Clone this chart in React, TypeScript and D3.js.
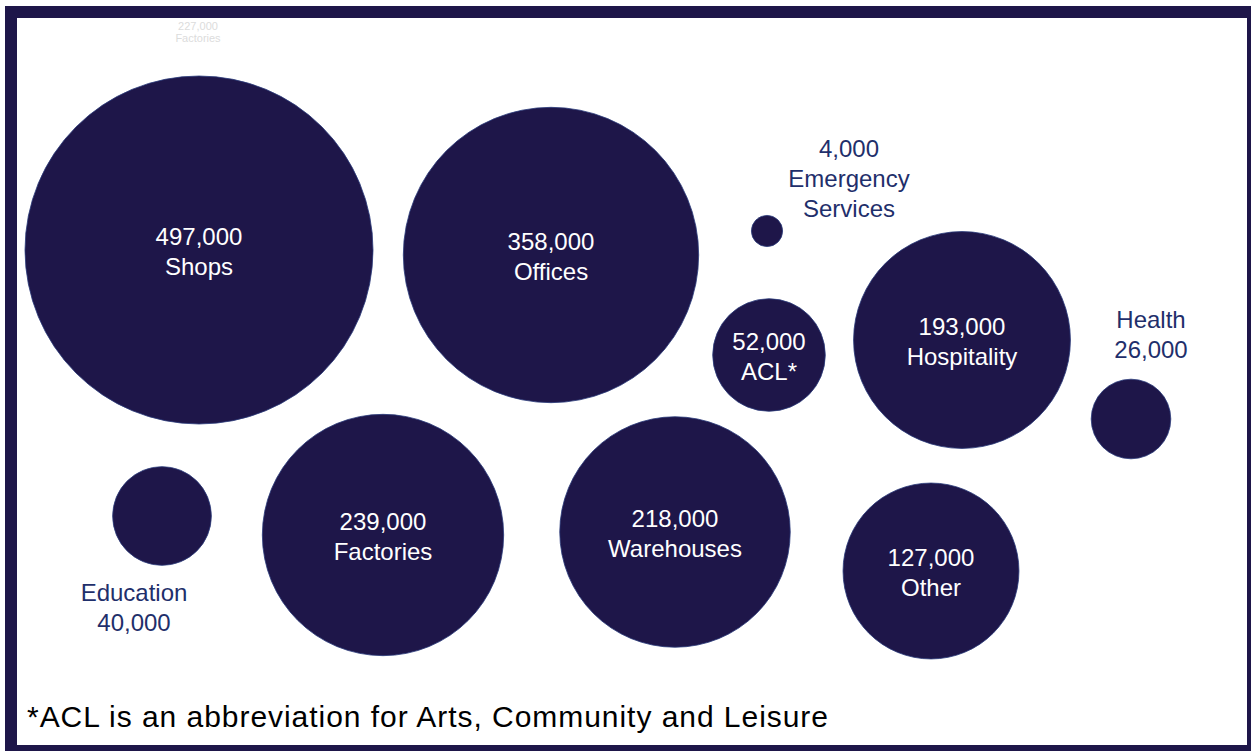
import React from "react";
import * as d3 from "d3";

// ---- data ----
const categories = [
  "Shops",
  "Offices",
  "Emergency Services",
  "ACL*",
  "Hospitality",
  "Health",
  "Education",
  "Factories",
  "Warehouses",
  "Other",
];
const values = [497000, 358000, 4000, 52000, 193000, 26000, 40000, 239000, 218000, 127000];
const footnote = "*ACL is an abbreviation for Arts, Community and Leisure";

// ---- layout (positions of bubble centres, label style) ----
const centerX = [199, 551, 767, 769, 962, 1131, 162, 383, 675, 931];
const centerY = [250, 255, 231, 355, 340, 419, 516, 535, 532, 571];
const labelMode = ["in", "in", "above", "in", "in", "above", "below", "in", "in", "in"];

const W = 1251;
const H = 751;
const NAVY = "#1e1649";
const LABEL_BLUE = "#1f2f6b";
const FONT = "'Liberation Sans', Arial, Helvetica, sans-serif";

export default function App() {
  const fmt = d3.format(",");
  const r = d3.scaleSqrt().domain([0, d3.max(values) as number]).range([0, 174]);

  const nodes = categories.map((c, i) => ({
    name: c,
    value: values[i],
    x: centerX[i],
    y: centerY[i],
    mode: labelMode[i],
  }));

  return (
    <svg
      width={W}
      height={H}
      style={{ position: "absolute", left: 0, top: 0, display: "block", fontFamily: FONT }}
    >
      <rect x={0} y={0} width={W} height={H} fill="#ffffff" />
      {/* frame */}
      <rect x={5} y={6} width={W - 5} height={H - 6} fill={NAVY} />
      <rect x={17} y={18} width={1247 - 17} height={745 - 18} fill="#ffffff" />

      {/* faint ghost text */}
      <text x={198} y={30} fontSize={11} fill="#dcdcdc" textAnchor="middle">227,000</text>
      <text x={198} y={42} fontSize={11} fill="#dcdcdc" textAnchor="middle">Factories</text>

      {nodes.map((n, i) => (
        <circle key={"c" + i} cx={n.x} cy={n.y} r={r(n.value)} fill={NAVY} stroke="#2a3a7a" strokeWidth={0.8} />
      ))}

      {nodes.map((n, i) => {
        if (n.mode === "in") {
          return (
            <g key={"t" + i} fill="#ffffff" fontSize={24} textAnchor="middle">
              <text x={n.x} y={n.y - 5}>{fmt(n.value)}</text>
              <text x={n.x} y={n.y + 25}>{n.name}</text>
            </g>
          );
        }
        return null;
      })}

      {/* outside labels */}
      <g fill={LABEL_BLUE} fontSize={24} textAnchor="middle">
        <text x={849} y={157}>{fmt(values[2])}</text>
        <text x={849} y={187}>Emergency</text>
        <text x={849} y={217}>Services</text>

        <text x={1151} y={328}>{categories[5]}</text>
        <text x={1151} y={358}>{fmt(values[5])}</text>

        <text x={134} y={601}>{categories[6]}</text>
        <text x={134} y={631}>{fmt(values[6])}</text>
      </g>

      <text x={27} y={727} fontSize={30} fill="#000000" textLength={801} lengthAdjust="spacing">
        {footnote}
      </text>
    </svg>
  );
}
